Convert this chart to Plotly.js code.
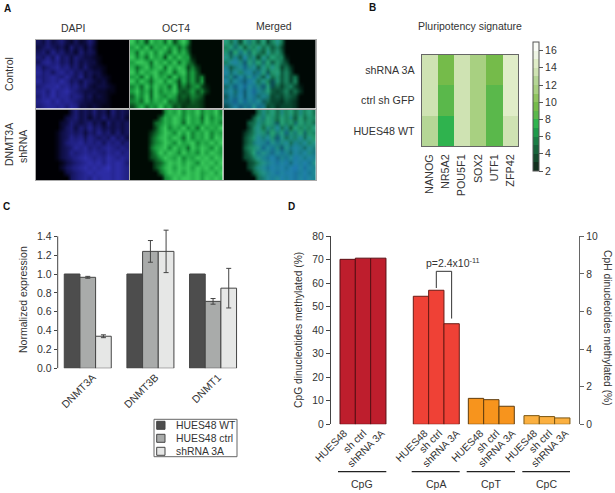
<!DOCTYPE html>
<html><head><meta charset="utf-8">
<script src="https://cdn.plot.ly/plotly-3.0.1.min.js"></script>
<style>html,body{margin:0;padding:0;background:#fff}</style></head>
<body><div id="chart" style="width:615px;height:493px"></div>
<script>
// Panel A: coarse intensity readings (digits 0-9) of the micrographs; only the tissue part of each row is listed
const dapiControl=['4353453242353','3454342534242','4536453425343','54647453543321','46756453534331','645675645353221','756467564534331','6567657546342321','7567686453543231','56778675645323321','67586786543332211','5768677565342321','6786867654332221','5677675763323211'];
const octControl=['8573867483685','6858476857463','7486858648574','85748673858661','68874868584753','746857848687352','858678568478463','6748586748574635','8586478586374636','57485867483535631','68574857684346352','4758486576343543','5648576845332432','3574658563423332'];
const dapiShrna=['3534353425343','34534243534342','235434534253434','245354645343434','1345453546453534','1346564654546453','1356675656465645','1345767565676565','1346567676576756','1345678767687676','134567878687875','245678787897876','34567878887876','4567687887876'];
const octShrna=['5768576857685','47687586748576','457687486758675','368576857486768','2468758685768576','3578687485768587','3568758678576868','4678586748687586','3586875867586876','3468768576878687','346878687587868','357868786878687','46878687867868','5687887868787'];

// Panel B
const genes=['NANOG','NR5A2','POU5F1','SOX2','UTF1','ZFP42'];
const sampleRows=['HUES48 WT','ctrl sh GFP','shRNA 3A'];
const signature=[[12.5,7.5,13.5,11.5,8.3,13.5],[13.5,8.5,13.5,11.5,8.5,14.5],[13.5,9.5,13.5,11.5,9.5,14.5]];
const bandColors=['#12301e','#144a2c','#17633a','#1a7d44','#1e9a4a','#2fb34e','#5ab84b','#75bb4a','#8fc45f','#a8d081','#b5d696','#cfe3b3','#e0edc8','#eef4e4','#fafcf7'];

// Panel C
const dnmtGenes=['DNMT3A','DNMT3B','DNMT1'];
const exprWT=[1.0,1.0,1.0];
const exprCtrl=[0.965,1.24,0.71];
const exprSh=[0.34,1.24,0.85];
const errCtrl=[0.01,0.115,0.03];
const errSh=[0.015,0.225,0.21];
const yTicksC=[0,0.2,0.4,0.6,0.8,1.0,1.2,1.4];

// Panel D
const barLabels=['HUES48','sh ctrl','shRNA 3A'];
const cpgVals=[70.2,70.7,70.7];
const cpaVals=[6.81,7.13,5.35];
const cptVals=[1.38,1.31,0.96];
const cpcVals=[0.46,0.41,0.34];

const W=615,H=493,FONT='"Liberation Sans",Arial,sans-serif',TXT='#333';
const px=v=>v/W, py=v=>1-v/H;
const dx=(a,b)=>[px(a),px(b)], dy=(top,bot)=>[py(bot),py(top)];
const layout={width:W,height:H,autosize:false,margin:{l:0,r:0,t:0,b:0},paper_bgcolor:'#fff',plot_bgcolor:'rgba(0,0,0,0)',
  font:{family:FONT,size:10.5,color:TXT},barmode:'overlay',showlegend:false,annotations:[],shapes:[]};
const traces=[];
function note(x,y,text,o){layout.annotations.push(Object.assign({xref:'paper',yref:'paper',x:px(x),y:py(y),text:text,showarrow:false,xanchor:'center',yanchor:'middle',font:{size:10.5,color:TXT,family:FONT}},o||{}));}
const toLeft=g=>g.map(r=>r.padEnd(20,'0').split('').map(Number));
const toRight=g=>g.map(r=>r.padStart(20,'0').split('').map(Number));

// ---- Panel A
const blueCS=[[0,'#000004'],[.3,'#0c0c3c'],[.6,'#1e1e7c'],[1,'#3232b4']];
const greenCS=[[0,'#000a04'],[.3,'#07401a'],[.65,'#1a9c40'],[1,'#48dc68']];
const mergeBase=[[0,'#000805'],[.35,'#0a4a30'],[.75,'#1f9468'],[1,'#30b080']];
const mergeTop=[[0,'rgba(20,90,200,0)'],[.4,'rgba(20,90,200,0.03)'],[.65,'rgba(20,95,205,0.35)'],[1,'rgba(30,105,215,0.65)']];
const cols=[[36,129],[129.7,222.7],[223.5,316]], rows=[[39.5,108.5],[110,180]];
const grids=[[toLeft(dapiControl),toLeft(octControl)],[toRight(dapiShrna),toRight(octShrna)]];
let ax=1;
rows.forEach((r,ri)=>cols.forEach((c,ci)=>{
  const id=ax===1?'':ax;
  const base={xaxis:'x'+id,yaxis:'y'+id,type:'heatmap',zsmooth:'best',zmin:0,zmax:9,showscale:false,hoverinfo:'skip',showlegend:false};
  if(ci===0) traces.push(Object.assign({},base,{z:grids[ri][0],colorscale:blueCS}));
  if(ci===1) traces.push(Object.assign({},base,{z:grids[ri][1],colorscale:greenCS}));
  if(ci===2){traces.push(Object.assign({},base,{z:grids[ri][1],colorscale:mergeBase}));
             traces.push(Object.assign({},base,{z:grids[ri][0],colorscale:mergeTop}));}
  const line={visible:true,showline:true,mirror:true,linecolor:'#aaa',linewidth:1,ticks:'',showticklabels:false,showgrid:false,zeroline:false};
  layout['xaxis'+id]=Object.assign({},line,{domain:dx(c[0],c[1]),range:[-0.5,19.5],anchor:'y'+id});
  layout['yaxis'+id]=Object.assign({},line,{domain:dy(r[0],r[1]),range:[13.5,-0.5],anchor:'x'+id});
  ax++;
}));
note(73,28,'DAPI');note(176,28,'OCT4');note(274,26,'Merged');
note(9,74,'Control',{textangle:-90});
note(9,145,'DNMT3A',{textangle:-90});note(23,147,'shRNA',{textangle:-90});

// ---- Panel B
const cs=[];bandColors.forEach((c,i)=>{cs.push([i/15,c]);cs.push([(i+1)/15,c]);});
traces.push({type:'heatmap',x:genes,y:sampleRows,z:signature,xaxis:'x7',yaxis:'y7',colorscale:cs,zmin:2,zmax:17,hoverinfo:'skip',showlegend:false,
  colorbar:{x:px(532.7),xanchor:'left',xpad:0,ypad:0,y:py(171),yanchor:'bottom',len:129/H,lenmode:'fraction',thickness:5.5,thicknessmode:'pixels',outlinecolor:'#555',outlinewidth:1,ticks:'outside',ticklen:4,tickcolor:'#555',tickwidth:1,tick0:2,dtick:2,tickfont:{size:10.5,color:TXT,family:FONT}}});
layout.xaxis7={domain:dx(421.7,518.3),anchor:'y7',tickangle:-90,ticks:'',showline:true,mirror:true,linecolor:'#666',linewidth:1,tickfont:{size:10.8,color:TXT},showgrid:false,zeroline:false,ticklabelstandoff:3};
layout.yaxis7={domain:dy(55,146),anchor:'x7',ticks:'',showline:true,mirror:true,linecolor:'#666',linewidth:1,tickfont:{size:10.7,color:TXT},showgrid:false,zeroline:false,ticklabelstandoff:4};
note(470,26,'Pluripotency signature');

// ---- Panel C
const cSeries=[['HUES48 WT',exprWT,null,'#4d4d4d',-0.375],['HUES48 ctrl',exprCtrl,errCtrl,'#a9abaa',-0.125],['shRNA 3A',exprSh,errSh,'#e6e7e6',0.125]];
cSeries.forEach(s=>{
  const t={type:'bar',name:s[0],x:dnmtGenes,y:s[1],xaxis:'x8',yaxis:'y8',width:0.25,offset:s[4],marker:{color:s[3],line:{color:'#444',width:1}},hoverinfo:'skip',showlegend:false};
  if(s[2]) t.error_y={type:'data',array:s[2],visible:true,color:'#444',thickness:1,width:2.5};
  traces.push(t);
});
layout.xaxis8={domain:dx(57.7,240),anchor:'y8',type:'category',categoryorder:'array',categoryarray:dnmtGenes,range:[-0.48,2.43],tickangle:-45,ticks:'',ticklabelshift:5,showline:false,showgrid:false,zeroline:false,tickfont:{size:10.5,color:TXT}};
layout.yaxis8={domain:dy(368.3-132*1.5/1.4,368.3),anchor:'x8',range:[0,1.5],tickmode:'array',tickvals:yTicksC,tickformat:'.1f',ticks:'outside',ticklen:3,tickcolor:'#444',showline:false,showgrid:false,zeroline:false,tickfont:{size:10.5,color:TXT}};
layout.shapes.push({type:'line',xref:'paper',yref:'y8',x0:px(57.7),x1:px(57.7),y0:0,y1:1.4,line:{color:'#444',width:1}});
note(23,300,'Normalized expression',{textangle:-90});
// legend of panel C
layout.shapes.push({type:'rect',xref:'paper',yref:'paper',x0:px(154),x1:px(237),y0:py(456.7),y1:py(419.3),line:{color:'#666',width:1},fillcolor:'#fff'});
cSeries.forEach((s,i)=>{
  const c=425.3+13*i;
  layout.shapes.push({type:'rect',xref:'paper',yref:'paper',x0:px(156.7),x1:px(165),y0:py(c+4),y1:py(c-4),line:{color:'#444',width:1},fillcolor:s[3]});
  note(174.3,c,s[0],{xanchor:'left',font:{size:10.4,color:TXT,family:FONT}});
});

// ---- Panel D
const groupStart=[0.607,5.39,8.98,12.61];
const slots=g=>barLabels.map((_,i)=>groupStart[g]+0.5+i);
const labelPx=[344.2,363.4,381.8,424.8,439.2,456.8,480.5,496.5,512.5,534.2,549.2,565.5];
const labelX=labelPx.map(p=>(p-330.7)/15.33);
const dSeries=[[cpgVals,'#be1e2d','#5a0f14','y9'],[cpaVals,'#ef4136','#6b1a14','y10'],[cptVals,'#f7941d','#5f3d0e','y10'],[cpcVals,'#fbb040','#7a5510','y10']];
dSeries.forEach((s,g)=>traces.push({type:'bar',x:slots(g),y:s[0],width:1,xaxis:'x9',yaxis:s[3],marker:{color:s[1],line:{color:s[2],width:1}},hoverinfo:'skip',showlegend:false}));
layout.xaxis9={domain:dx(330.7,579.3),anchor:'y9',range:[0,16.22],tickmode:'array',tickvals:labelX,ticktext:labelX.map((_,i)=>barLabels[i%3]),tickangle:-45,ticks:'',showline:false,showgrid:false,zeroline:false,tickfont:{size:10.3,color:TXT}};
layout.yaxis9={domain:dy(236.3,424.3),anchor:'x9',range:[0,80],dtick:10,ticks:'outside',ticklen:4,tickcolor:'#444',showline:true,linecolor:'#444',linewidth:1,showgrid:false,zeroline:false,tickfont:{size:10.3,color:TXT}};
layout.yaxis10={overlaying:'y9',side:'right',anchor:'x9',range:[0,10],dtick:2,ticks:'outside',ticklen:4,tickcolor:'#666',showline:true,linecolor:'#666',linewidth:1,showgrid:false,zeroline:false,tickfont:{size:10.3,color:TXT}};
note(298,330,'CpG dinucleotides methylated (%)',{textangle:-90,font:{size:10.3,color:TXT,family:FONT}});
note(608,328,'CpH dinucleotides methylated (%)',{textangle:90,font:{size:10.3,color:TXT,family:FONT}});
note(453,262,'p=2.4x10<sup>-11</sup>');
layout.shapes.push({type:'path',xref:'x9',yref:'y9',path:`M ${slots(1)[1]} 58 V 65.1 H ${slots(1)[2]} V 45`,line:{color:'#333',width:1}});
['CpG','CpA','CpT','CpC'].forEach((t,g)=>{
  const s=[338,411.7,466.7,522.3][g], e=[386.3,459.7,515,570][g];
  layout.shapes.push({type:'line',xref:'paper',yref:'paper',x0:px(s),x1:px(e),y0:py(471.7),y1:py(471.7),line:{color:'#222',width:1.2}});
  note((s+e)/2,484,t);
});

// panel letters
[['A',7,8],['B',372,7],['C',6,207],['D',291,207]].forEach(a=>note(a[1],a[2],'<b>'+a[0]+'</b>',{font:{size:10,color:'#111',family:FONT}}));

Plotly.newPlot('chart',traces,layout,{displayModeBar:false,staticPlot:true});
</script></body></html>
